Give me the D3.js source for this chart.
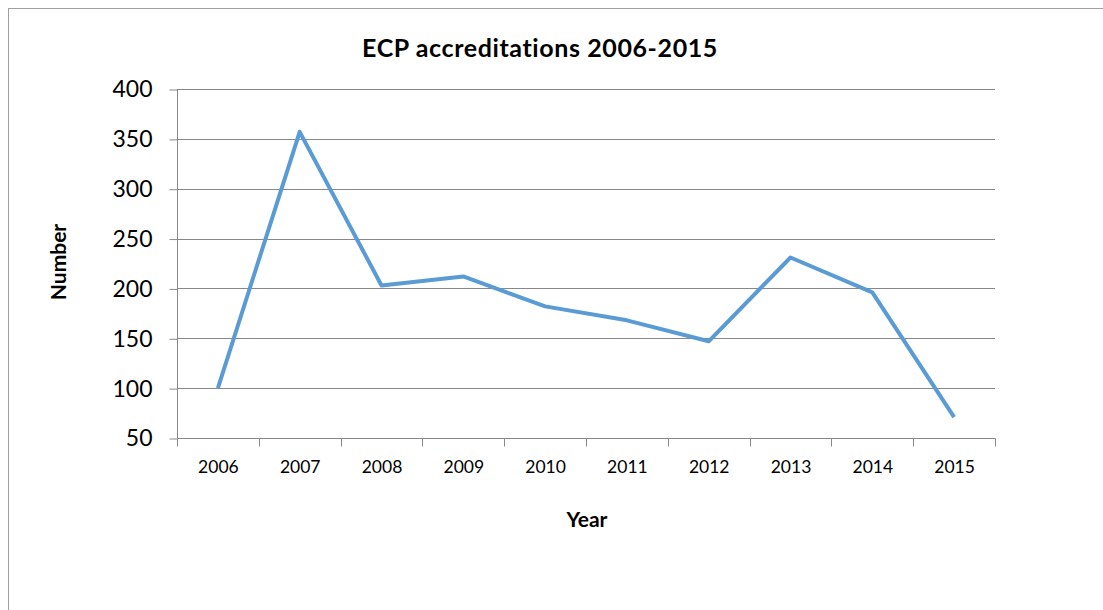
<!DOCTYPE html>
<html><head><meta charset="utf-8">
<script src="https://cdn.jsdelivr.net/npm/d3@7"></script>
<style>body{margin:0;background:#fff}svg{display:block}</style>
</head><body>
<svg id="c" width="1103" height="610"></svg>
<script>
const years = ["2006","2007","2008","2009","2010","2011","2012","2013","2014","2015"];
const values = [100, 357, 203, 212, 182, 168, 147, 231, 196, 71];
const yTicks = [50,100,150,200,250,300,350,400];
const title = "ECP accreditations 2006-2015";
const xTitle = "Year";
const yTitle = "Number";

const svg = d3.select("#c");
const font = "Lato, 'Open Sans', sans-serif";
svg.append("rect").attr("x",8.5).attr("y",8.5).attr("width",1200).attr("height",700)
  .attr("fill","#fff").attr("stroke","#a0a0a0").attr("stroke-width",1);

const L=177, R=995, T=89, B=438;
const x = d3.scaleBand().domain(years).range([L,R]);
const y = d3.scaleLinear().domain([50,400]).range([B,T]);

const g = svg.append("g");
g.selectAll("line.grid").data(yTicks.slice(1)).join("line")
  .attr("x1",L).attr("x2",R).attr("y1",d=>Math.round(y(d))+0.5).attr("y2",d=>Math.round(y(d))+0.5)
  .attr("stroke","#888").attr("stroke-width",1);

const ya = svg.append("g").attr("transform",`translate(${L+0.5},0.5)`)
  .call(d3.axisLeft(y).tickValues(yTicks).tickSize(8).tickPadding(17).tickFormat(d3.format("d")));
ya.select(".domain").attr("stroke","#888").attr("d",`M0,${T}V${B}`);
ya.selectAll(".tick line").attr("stroke","#888");
ya.selectAll(".tick text").attr("font-family",font).attr("font-size",23).attr("fill","#000");

const xa = svg.append("g").attr("transform",`translate(0.5,${B+0.5})`)
  .call(d3.axisBottom(x).tickSize(0).tickPadding(22));
xa.select(".domain").attr("stroke","#888").attr("d",`M${L},0H${R}`);
xa.selectAll(".tick text").attr("font-family",font).attr("font-size",17.5).attr("fill","#000");
const edges = years.map(d=>x(d)).concat([R]);
xa.selectAll("line.tk").data(edges).join("line")
  .attr("x1",d=>Math.round(d)).attr("x2",d=>Math.round(d)).attr("y1",0).attr("y2",8).attr("stroke","#888");

const line = d3.line().x((d,i)=>x(years[i])+x.bandwidth()/2).y(d=>y(d));
svg.append("path").datum(values).attr("d",line).attr("fill","none")
  .attr("stroke","#5B9BD5").attr("stroke-width",4).attr("stroke-linejoin","round");

svg.append("text").attr("x",540).attr("y",57).attr("text-anchor","middle")
  .attr("font-family",font).attr("font-weight","bold").attr("font-size",25)
  .attr("letter-spacing",0.6).text(title);
svg.append("text").attr("x",587).attr("y",527).attr("text-anchor","middle")
  .attr("font-family",font).attr("font-weight","bold").attr("font-size",21).text(xTitle);
svg.append("text").attr("transform","translate(66,262) rotate(-90)").attr("text-anchor","middle")
  .attr("font-family",font).attr("font-weight","bold").attr("font-size",21).text(yTitle);
</script>
</body></html>
